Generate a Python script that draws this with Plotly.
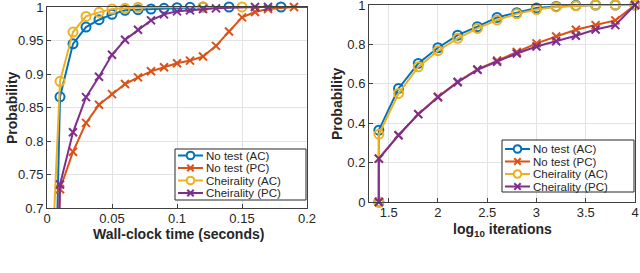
import plotly.graph_objects as go

W, H = 640, 273

# ---------------- data: left panel (wall-clock time) ----------------
t_nt_ac = [0, 0.01, 0.02, 0.03, 0.04, 0.05, 0.06, 0.07, 0.08, 0.09, 0.10, 0.11, 0.12, 0.14, 0.18, 0.25]
p_nt_ac = [0, 0.866, 0.945, 0.970, 0.981, 0.989, 0.995, 0.996, 0.997, 0.998, 0.999, 0.9995, 1.0, 1.0, 1.0, 1.0]

t_nt_pc = [0, 0.01, 0.02, 0.03, 0.04, 0.05, 0.06, 0.07, 0.08, 0.09, 0.10, 0.11, 0.12, 0.13, 0.14,
           0.15, 0.16, 0.17, 0.19, 0.25]
p_nt_pc = [0, 0.728, 0.784, 0.827, 0.854, 0.870, 0.885, 0.895, 0.904, 0.910, 0.916, 0.920, 0.926,
           0.942, 0.9635, 0.9845, 0.9925, 0.997, 1.0, 1.0]

t_ch_ac = [0.005, 0.01, 0.02, 0.03, 0.04, 0.05, 0.06, 0.07, 0.12, 0.15, 0.25]
p_ch_ac = [0.67, 0.889, 0.9626, 0.986, 0.992, 0.997, 0.998, 0.9995, 1.0, 1.0, 1.0]

t_ch_pc = [0, 0.01, 0.02, 0.03, 0.04, 0.05, 0.06, 0.07, 0.08, 0.09, 0.10, 0.11, 0.12, 0.13,
           0.16, 0.17, 0.25]
p_ch_pc = [0, 0.735, 0.813, 0.8655, 0.896, 0.9287, 0.951, 0.966, 0.980, 0.989, 0.9935, 0.995,
           0.997, 0.998, 1.0, 1.0, 1.0]

# ---------------- data: right panel (log10 iterations) ----------------
log_iter = [1.4, 1.4, 1.6, 1.8, 2.0, 2.2, 2.4, 2.6, 2.8, 3.0, 3.2, 3.4, 3.6, 3.8, 4.0]
r_nt_ac = [0, 0.3645, 0.5765, 0.7036, 0.783, 0.847, 0.890, 0.937, 0.961, 0.985, 0.993, 0.998, 1.0, 1.0, 1.0]
r_nt_pc = [0, 0.22, 0.339, 0.446, 0.534, 0.610, 0.673, 0.718, 0.761, 0.805, 0.840, 0.874, 0.898, 0.922, 1.0]
r_ch_ac = [0, 0.344, 0.551, 0.686, 0.768, 0.831, 0.881, 0.924, 0.955, 0.977, 0.990, 0.996, 1.0, 1.0, 1.0]
r_ch_pc = [0, 0.22, 0.339, 0.446, 0.532, 0.608, 0.671, 0.712, 0.754, 0.789, 0.816, 0.844, 0.876, 0.898, 1.0]

series_names = ["No test (AC)", "No test (PC)", "Cheirality (AC)", "Cheirality (PC)"]
colors = ["#0072BD", "#D95319", "#EDB120", "#7E2F8E"]
symbols = ["circle-open", "x-thin-open", "circle-open", "x-thin-open"]

x_ticks_left = [0, 0.05, 0.1, 0.15, 0.2]
x_ticklabels_left = ["0", "0.05", "0.1", "0.15", "0.2"]
y_ticks_left = [0.7, 0.75, 0.8, 0.85, 0.9, 0.95, 1.0]
y_ticklabels_left = ["0.7", "0.75", "0.8", "0.85", "0.9", "0.95", "1"]
x_ticks_right = [1.5, 2, 2.5, 3, 3.5, 4]
x_ticklabels_right = ["1.5", "2", "2.5", "3", "3.5", "4"]
y_ticks_right = [0, 0.2, 0.4, 0.6, 0.8, 1.0]
y_ticklabels_right = ["0", "0.2", "0.4", "0.6", "0.8", "1"]

FONT = "Liberation Sans, Arial, Helvetica, sans-serif"
TXT = "#262626"


def px(x):
    return x / W


def py(y):
    return 1 - y / H


fig = go.Figure()

left_data = [(t_nt_ac, p_nt_ac), (t_nt_pc, p_nt_pc), (t_ch_ac, p_ch_ac), (t_ch_pc, p_ch_pc)]
right_data = [(log_iter, r_nt_ac), (log_iter, r_nt_pc), (log_iter, r_ch_ac), (log_iter, r_ch_pc)]

for i in range(4):
    sym = symbols[i]
    msize = 9 if "circle" in sym else 8
    for (xs, ys), xa, ya in ((left_data[i], "x", "y"), (right_data[i], "x2", "y2")):
        fig.add_trace(go.Scatter(
            x=xs, y=ys, xaxis=xa, yaxis=ya, mode="lines+markers",
            name=series_names[i], showlegend=False, cliponaxis=False,
            line=dict(color=colors[i], width=2),
            marker=dict(symbol=sym, size=msize, color=colors[i],
                        line=dict(color=colors[i], width=2)),
        ))

axis_common = dict(
    showgrid=True, gridcolor="#e3e3e3", gridwidth=1, zeroline=False,
    showline=True, linecolor="#404040", linewidth=1, mirror=True,
    ticks="inside", ticklen=4, tickcolor="#404040", tickwidth=1,
    tickfont=dict(family=FONT, size=13, color=TXT),
    automargin=False, ticklabeloverflow="allow",
)

fig.update_layout(
    template="none",
    width=W, height=H,
    margin=dict(l=0, r=0, t=0, b=0),
    paper_bgcolor="white", plot_bgcolor="white",
    showlegend=False,
    xaxis=dict(domain=[px(47), px(307)], range=[0, 0.2], tickvals=x_ticks_left,
               ticktext=x_ticklabels_left, anchor="y", ticklabelstandoff=-2, **axis_common),
    yaxis=dict(domain=[py(208), py(7)], range=[0.7, 1.0], tickvals=y_ticks_left,
               ticktext=y_ticklabels_left, anchor="x", **axis_common),
    xaxis2=dict(domain=[px(369), px(635)], range=[1.3, 4.0], tickvals=x_ticks_right,
                ticktext=x_ticklabels_right, anchor="y2", ticklabelstandoff=-2, **axis_common),
    yaxis2=dict(domain=[py(202), py(5)], range=[0, 1.0], tickvals=y_ticks_right,
                ticktext=y_ticklabels_right, anchor="x2", **axis_common),
)

annotations = [
    dict(text="<b>Probability</b>", x=px(12), y=py(108), textangle=-90),
    dict(text="<b>Probability</b>", x=px(337), y=py(104), textangle=-90),
    dict(text="<b>Wall-clock time (seconds)</b>", x=px(178), y=py(234)),
    dict(text="<b>log<sub>10</sub> iterations</b>", x=px(502), y=py(230)),
]
for a in annotations:
    a.update(xref="paper", yref="paper", showarrow=False, xanchor="center", yanchor="middle",
             font=dict(family=FONT, size=14, color=TXT))
    fig.add_annotation(**a)

# ---------------- legends (drawn in pixel layout space) ----------------
shapes = []


def add_legend(box, rows, line_x0, line_x1, text_x):
    x0, y0, x1, y1 = box
    shapes.append(dict(type="rect", xref="paper", yref="paper",
                       x0=px(x0), x1=px(x1), y0=py(y1), y1=py(y0),
                       fillcolor="white", line=dict(color="#262626", width=1), layer="above"))
    mx = (line_x0 + line_x1) / 2
    for i, ry in enumerate(rows):
        shapes.append(dict(type="line", xref="paper", yref="paper",
                           x0=px(line_x0), x1=px(line_x1), y0=py(ry), y1=py(ry),
                           line=dict(color=colors[i], width=2), layer="above"))
        if "circle" in symbols[i]:
            r = 3.8
            shapes.append(dict(type="circle", xref="paper", yref="paper",
                               x0=px(mx - r), x1=px(mx + r), y0=py(ry + r), y1=py(ry - r),
                               fillcolor="white", line=dict(color=colors[i], width=2), layer="above"))
        else:
            r = 3.2
            path = (f"M {px(mx - r)} {py(ry - r)} L {px(mx + r)} {py(ry + r)} "
                    f"M {px(mx - r)} {py(ry + r)} L {px(mx + r)} {py(ry - r)}")
            shapes.append(dict(type="path", xref="paper", yref="paper", path=path,
                               line=dict(color=colors[i], width=2), layer="above"))
        fig.add_annotation(text=series_names[i], xref="paper", yref="paper",
                           x=px(text_x), y=py(ry), xanchor="left", yanchor="middle",
                           showarrow=False, font=dict(family=FONT, size=11.5, color=TXT))


add_legend((175, 149, 306, 200), [155.5, 168, 180.5, 193], 178, 203, 203.5)
add_legend((502, 140, 634, 192), [149, 161.5, 174, 186.5], 505, 530, 530.5)

fig.update_layout(shapes=shapes)

fig.write_html(
    "out.html",
    config={"displayModeBar": False},
    post_script="document.body.style.margin='0';document.body.style.overflow='hidden';",
)
